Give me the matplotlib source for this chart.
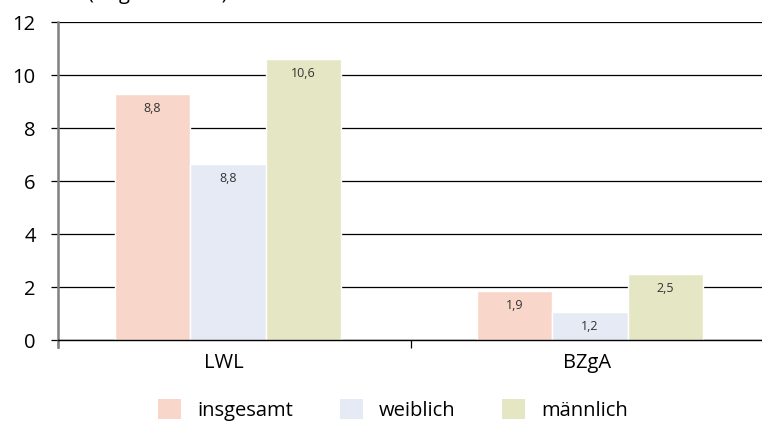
import matplotlib
matplotlib.use("Agg")
import matplotlib.pyplot as plt
from matplotlib.patches import Patch
import numpy as np

plt.rcParams['font.family'] = ['Open Sans', 'DejaVu Sans']

categories = ["LWL", "BZgA"]
series = ["insgesamt", "weiblich", "männlich"]
values = {
    "insgesamt": [9.27, 1.85],
    "weiblich": [6.63, 1.05],
    "männlich": [10.6, 2.5],
}
labels = {
    "insgesamt": ["8,8", "1,9"],
    "weiblich": ["8,8", "1,2"],
    "männlich": ["10,6", "2,5"],
}
colors = {
    "insgesamt": "#F8D6CA",
    "weiblich": "#E6EAF5",
    "männlich": "#E5E7C4",
}
yticks = [0, 2, 4, 6, 8, 10, 12]

fig = plt.figure(figsize=(7.62, 4.23), dpi=100)
ax = fig.add_axes([58/762, 1 - 340/423, 706/762, (340 - 22)/423])

x = np.arange(len(categories)) + np.array([-0.018, 0.007])
w = 0.214
offsets = [-w, 0, w]
for s, off in zip(series, offsets):
    bars = ax.bar(x + off, values[s], width=w, color=colors[s], edgecolor="white",
                  linewidth=1, zorder=3)
    for b, lab in zip(bars, labels[s]):
        ax.text(b.get_x() + b.get_width()/2, b.get_height() - 0.3, lab,
                ha="center", va="top", fontsize=9, color="#333333", zorder=4)

ax.set_xlim(-0.5, 1.5)
ax.set_ylim(0, 12)
ax.set_yticks(yticks)
ax.set_yticklabels([str(v) for v in yticks], fontsize=14.5)
ax.yaxis.grid(True, color="#000000", linewidth=0.9, zorder=0)
ax.set_axisbelow(True)
ax.tick_params(axis="y", length=5, width=0.9, color="black", pad=11)

ax.set_xticks([-0.5, 0.5])
ax.set_xticklabels(["", ""])
ax.tick_params(axis="x", which="major", length=6, width=0.9, color="black")
ax.set_xticks(np.arange(len(categories)) + np.array([-0.03, 0.0]), minor=True)
ax.set_xticklabels(categories, minor=True, fontsize=14.5)
ax.tick_params(axis="x", which="minor", length=0, pad=9)

for sp in ["top", "right"]:
    ax.spines[sp].set_visible(False)
ax.spines["bottom"].set_color("black")
ax.spines["bottom"].set_linewidth(1.0)
ax.spines["left"].set_color("#808080")
ax.spines["left"].set_linewidth(1.8)
ax.spines["left"].set_zorder(5)
ax.spines["left"].set_bounds(-0.25, 12)
ax.spines["bottom"].set_zorder(5)

handles = [Patch(facecolor=colors[s], edgecolor="none") for s in series]
fig.legend(handles, series, loc="center", bbox_to_anchor=(0.5 + 12/762, 1 - 410/423),
           ncol=3, frameon=False, fontsize=14.5, handlelength=1.15, handleheight=1.15,
           handletextpad=0.8, columnspacing=2.3, borderpad=0, borderaxespad=0)

fig.text(88/762, 1 + 0.5/423, "(Angaben in %)", fontsize=14.5, ha="left", va="baseline")

fig.savefig("out.png", dpi=100)
